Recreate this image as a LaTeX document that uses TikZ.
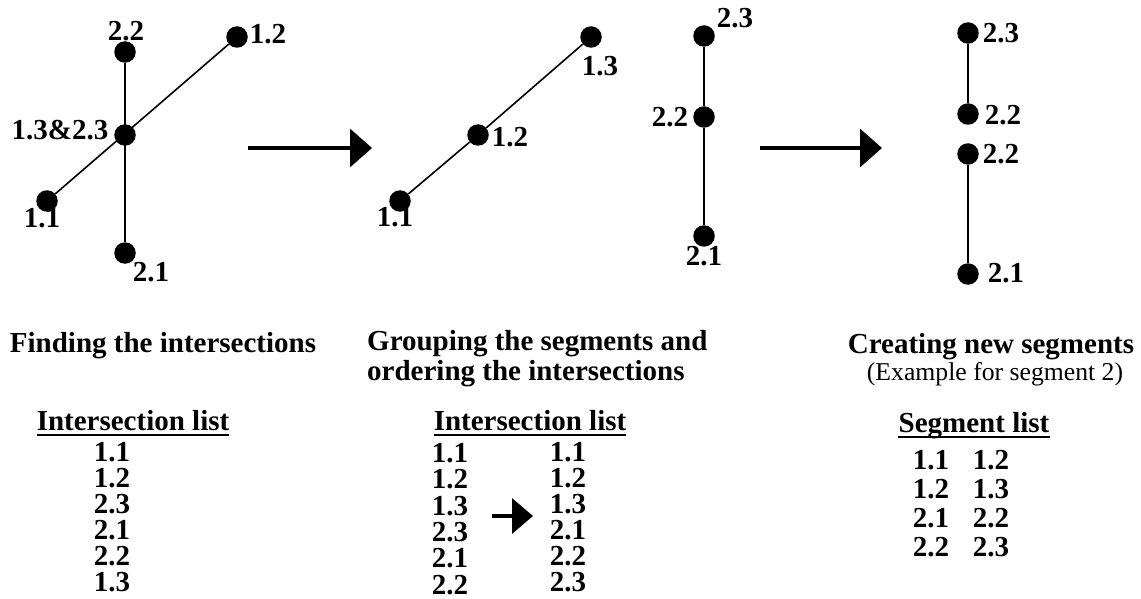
\documentclass[tikz,border=0pt]{standalone}
\usepackage{fontspec}
\setmainfont{Liberation Serif}
\usetikzlibrary{arrows.meta}
\tikzset{
  pt/.style={circle, fill=black, inner sep=0pt, minimum size=21.5pt},
  lbl/.style={font=\fontsize{29}{30}\selectfont\bfseries, inner sep=0pt},
  ttl/.style={font=\fontsize{29}{30}\selectfont\bfseries, inner sep=0pt, anchor=base},
  sub/.style={font=\fontsize{25.7}{27}\selectfont, inner sep=0pt, anchor=base},
  col/.style={font=\fontsize{29}{#1}\selectfont\bfseries, inner sep=0pt, anchor=north, align=center},
  vseg/.style={line width=2pt},
  dseg/.style={line width=1.6pt},
  bigarrow/.style={line width=3.2pt, -{Triangle[length=22pt,width=38pt]}},
  smallarrow/.style={line width=3.5pt, -{Triangle[length=21pt,width=35pt]}},
  uline/.style={line width=2.5pt}
}
\begin{document}
\begin{tikzpicture}[x=1pt,y=-1pt]
\useasboundingbox (0,0) rectangle (1141,599);
% ---------- Panel 1 ----------
\node[pt] (a22) at (125,52) {};
\node[pt] (a12) at (237,37) {};
\node[pt] (ac)  at (125,135) {};
\node[pt] (a11) at (47,201) {};
\node[pt] (a21) at (125,253) {};
\draw[vseg] (a22) -- (a21);
\draw[dseg] (a11) -- (a12);
\node[lbl] (la22) at (126,31) {2.2};
\node[lbl] (la12) at (268,34) {1.2};
\node[lbl] (lac)  at (60,130) {1.3\&2.3};
\node[lbl] (la11) at (42,218) {1.1};
\node[lbl] (la21) at (151,272) {2.1};
% arrow 1
\coordinate (r1s) at (248,148);
\coordinate (r1e) at (372,148);
\draw[bigarrow] (r1s) -- (r1e);
% ---------- Panel 2 ----------
\node[pt] (b11) at (400,201) {};
\node[pt] (b12) at (478,135) {};
\node[pt] (b13) at (591,37) {};
\draw[dseg] (b11) -- (b12) -- (b13);
\node[pt] (b23) at (704,36) {};
\node[pt] (b22) at (704,117) {};
\node[pt] (b21) at (704,236) {};
\draw[vseg] (b23) -- (b22) -- (b21);
\node[lbl] (lb11) at (395,217) {1.1};
\node[lbl] (lb12) at (510,137) {1.2};
\node[lbl] (lb13) at (600,66) {1.3};
\node[lbl] (lb23) at (735,18) {2.3};
\node[lbl] (lb22) at (670,117) {2.2};
\node[lbl] (lb21) at (704,256) {2.1};
% arrow 2
\coordinate (r2s) at (760,148);
\coordinate (r2e) at (882,148);
\draw[bigarrow] (r2s) -- (r2e);
% ---------- Panel 3 ----------
\node[pt] (c23) at (968,33) {};
\node[pt] (c22a) at (968,114) {};
\node[pt] (c22b) at (968,154) {};
\node[pt] (c21) at (968,274) {};
\draw[vseg] (c23) -- (c22a);
\draw[vseg] (c22b) -- (c21);
\node[lbl] (lc23) at (1001,33) {2.3};
\node[lbl] (lc22a) at (1003,115) {2.2};
\node[lbl] (lc22b) at (1001,154) {2.2};
\node[lbl] (lc21) at (1006,273) {2.1};
% ---------- Titles ----------
\node[ttl] (t1) at (163,352) {Finding the intersections};
\node[ttl, anchor=base west] (t2a) at (367,350) {Grouping the segments and};
\node[ttl, anchor=base west] (t2b) at (367,380) {ordering the intersections};
\node[ttl] (t3) at (991,353) {Creating new segments};
\node[sub] (t3s) at (995,380) {(Example for segment 2)};
% ---------- List 1 ----------
\node[ttl] (h1) at (133,430) {Intersection list};
\draw[uline] ([yshift=-5pt]h1.base west) -- ([yshift=-5pt]h1.base east);
\node[col=26] (l1) at (112,442) {1.1\\1.2\\2.3\\2.1\\2.2\\1.3};
% ---------- List 2 ----------
\node[ttl] (h2) at (530,430) {Intersection list};
\draw[uline] ([yshift=-5pt]h2.base west) -- ([yshift=-5pt]h2.base east);
\node[col=26.4] (l2a) at (450,443) {1.1\\1.2\\1.3\\2.3\\2.1\\2.2};
\node[col=26] (l2b) at (568,442) {1.1\\1.2\\1.3\\2.1\\2.2\\2.3};
\coordinate (r3s) at (492,516);
\coordinate (r3e) at (533,516);
\draw[smallarrow] (r3s) -- (r3e);
% ---------- List 3 ----------
\node[ttl] (h3) at (974,432) {Segment list};
\draw[uline] ([yshift=-5pt]h3.base west) -- ([yshift=-5pt]h3.base east);
\node[col=29] (l3a) at (931,450) {1.1\\1.2\\2.1\\2.2};
\node[col=29] (l3b) at (991,450) {1.2\\1.3\\2.2\\2.3};
\end{tikzpicture}
\end{document}
